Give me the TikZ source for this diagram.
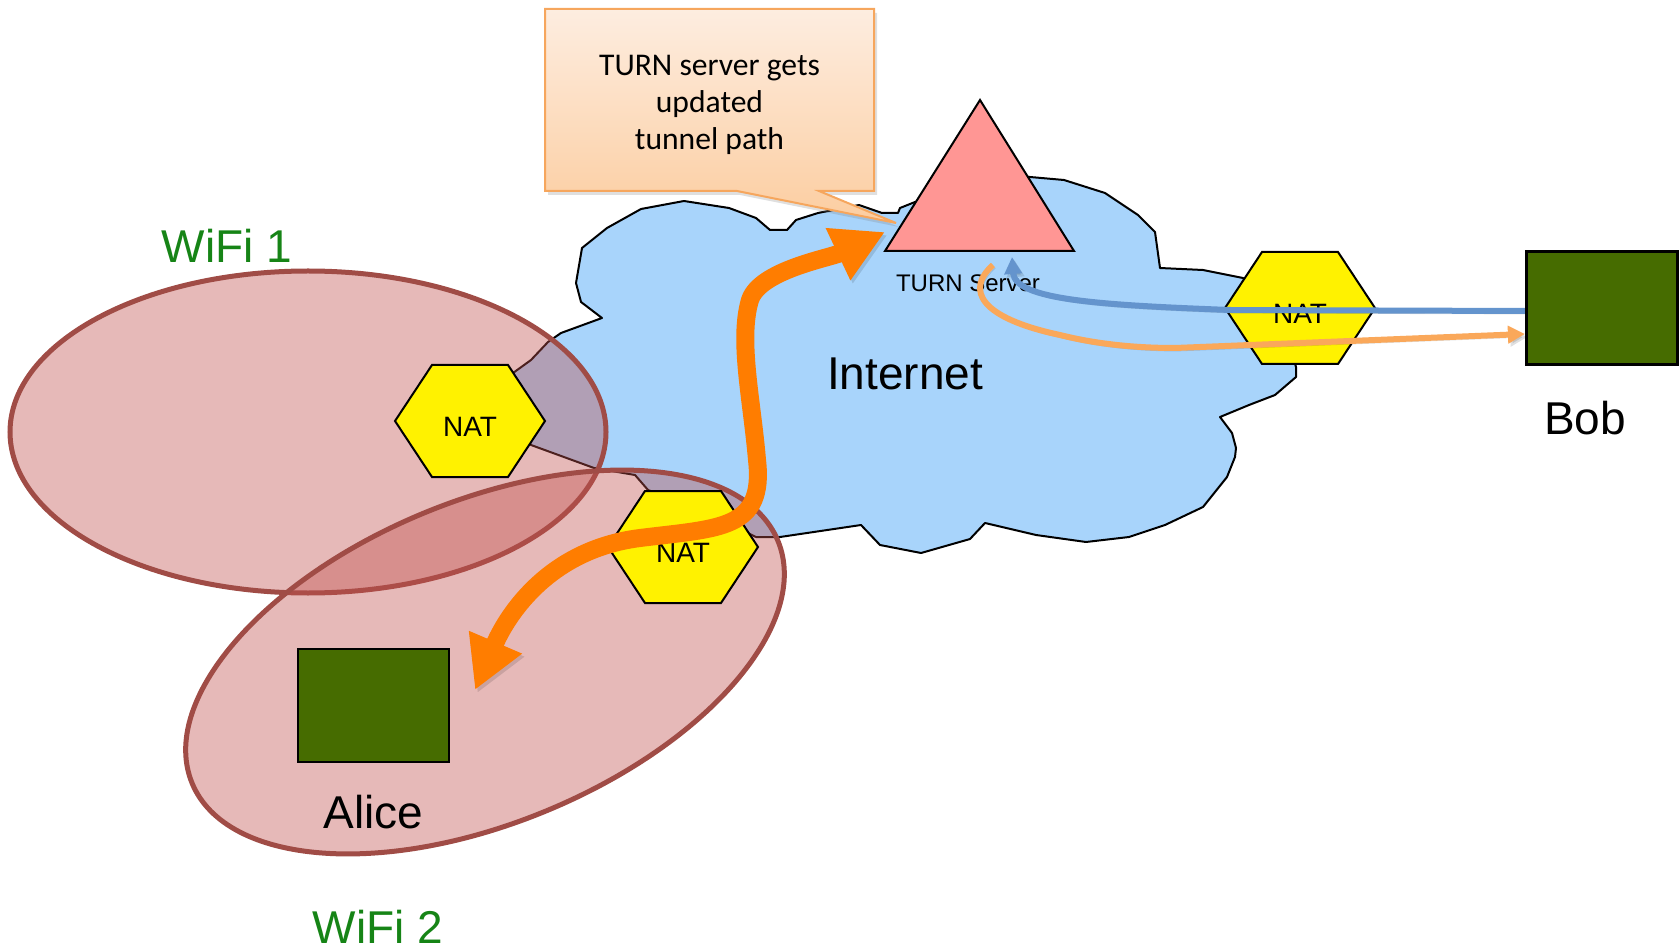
\documentclass[tikz,border=0pt]{standalone}
\usepackage{fontspec}
\setmainfont{Liberation Sans}
\newfontfamily\calibri{Carlito}
\usepackage{xcolor}
\usepackage{tikz}
\usetikzlibrary{arrows.meta,shapes,shadows,positioning}

% 六边形NAT: 先画黄色六边形, 再放文字节点
\newcommand{\natnode}[2]{%
  \filldraw[natshape] (#2) +(-75,0) -- +(-38,-56) -- +(38,-56) -- +(75,0) -- +(38,56) -- +(-38,56) -- cycle;
  \node[nat] (#1) at (#2) {NAT};}

\begin{document}
\begin{tikzpicture}[x=0.5pt,y=-0.5pt]
    \definecolor{mycloud}{RGB}{168,212,251}
    \definecolor{mywifi}{RGB}{192,80,77}
    \definecolor{mywifiline}{RGB}{160,76,70}
    \definecolor{mygreen}{RGB}{70,108,0}
    \definecolor{mytext}{RGB}{22,132,22}
    \definecolor{mypink}{RGB}{255,150,148}
    \definecolor{myorange}{RGB}{255,125,0}
    \definecolor{mylorange}{RGB}{250,168,90}
    \definecolor{myblue}{RGB}{100,148,205}
    \definecolor{mynoteline}{RGB}{246,166,93}
    \definecolor{mynotetop}{RGB}{253,237,224}
    \definecolor{mynotebot}{RGB}{252,205,160}

    \tikzstyle{netcloud}=[draw,line width=1pt,fill=mycloud,line join=round]  % 互联网云
    \tikzstyle{wifi}=[draw=mywifiline,line width=2.5pt,fill=mywifi,fill opacity=0.4]  % WiFi范围
    \tikzstyle{natshape}=[draw,line width=1pt,fill=yellow]  % NAT六边形
    \tikzstyle{nat}=[inner sep=0pt,yshift=-3pt,font=\fontsize{14pt}{16pt}\selectfont]
    \tikzstyle{device}=[rectangle,draw,line width=1.3pt,fill=mygreen,minimum width=75.5pt,minimum height=56.5pt]
    \tikzstyle{bigname}=[inner sep=0pt,font=\fontsize{23pt}{27pt}\selectfont]
    \tikzstyle{wifiname}=[bigname,text=mytext]
    \tikzstyle{turnshape}=[draw,line width=1pt,fill=mypink,line join=miter]
    \tikzstyle{notebox}=[draw=mynoteline,line width=1pt,top color=mynotetop,bottom color=mynotebot,
        drop shadow={shadow xshift=1.5pt,shadow yshift=-2pt,opacity=0.25}]
    \tikzstyle{shade}=[preaction={draw=black,opacity=0.12,transform canvas={shift={(1.2pt,-1.5pt)}}}]  % 连线阴影
    \tikzstyle{bigarrow}=[line width=9pt,myorange,shade,{Triangle[length=26pt,width=27pt]}-{Triangle[length=26pt,width=27pt]}]
    \tikzstyle{thinarrow}=[line width=3pt,shade,-{Triangle[length=8.5pt,width=8.5pt]}]

    \useasboundingbox (0,0) rectangle (1679,951);

    % 互联网
    \draw[netcloud] (684,201) -- (729,208) -- (756,218) -- (770,230) -- (787,230) -- (796,220) -- (818,213)
        -- (859,205) -- (882,213) -- (898,213) -- (900,208) -- (915,202) -- (960,186) -- (1000,177)
        -- (1030,177) -- (1064,180) -- (1105,193) -- (1138,215) -- (1155,232) -- (1160,268) -- (1203,270)
        -- (1243,278) -- (1275,300) -- (1296,367) -- (1296,377) -- (1275,395) -- (1249,405) -- (1220,417)
        -- (1232,433) -- (1236,448) -- (1235,457) -- (1227,477) -- (1203,507) -- (1165,525) -- (1129,537)
        -- (1086,542) -- (1036,535) -- (985,523) -- (970,539) -- (921,553) -- (880,545) -- (861,525)
        -- (780,537) -- (756,537) -- (700,510) -- (648,490) -- (635,475) -- (594,468) -- (531,445)
        -- (505,410) -- (513,373) -- (531,360) -- (548,342) -- (561,333) -- (602,318) -- (581,302)
        -- (576,283) -- (582,248) -- (607,228) -- (641,209) -- cycle;
    \node[bigname] (internet) at (905,374) {Internet};

    % 两个WiFi
    \filldraw[wifi] (308,432) ellipse [x radius=298, y radius=161];
    \filldraw[wifi] (485,662) ellipse [x radius=317, y radius=161, rotate=22.5];
    \node[wifiname] (wifi1) at (227,246) {WiFi 1};
    \node[wifiname] (wifi2) at (378,927) {WiFi 2};

    % NAT
    \natnode{nat1}{470,421}
    \natnode{nat2}{683,547}
    \natnode{nat3}{1300,308}

    % TURN服务器
    \draw[turnshape] (980,100) -- (1074,251) -- (885,251) -- cycle;
    \node[inner sep=0pt,font=\fontsize{12pt}{14pt}\selectfont] (turn) at (968,283) {TURN Server};

    % 说明框
    \path[notebox] (545,9) -- (874,9) -- (874,191) -- (819,191) -- (896,223) -- (737,191) -- (545,191) -- cycle;
    \node[align=center,font=\calibri\fontsize{15.8pt}{18.5pt}\selectfont] (note) at (709.5,105)
        {TURN server gets\\updated\\tunnel path};

    % 终端
    \node[device] (alice) at (373.5,705.5) {};
    \node[bigname,below=15.5pt of alice] (alicename) {Alice};
    \node[device,line width=1.6pt] (bob) at (1602,308) {};
    \node[bigname] (bobname) at (1585,418) {Bob};

    % 连线
    \coordinate (alicein) at (475,690);
    \coordinate (turnin) at (885,232);
    \coordinate (bluetip) at (1012,257);
    \coordinate (orangestart) at (993,265);
    \draw[thinarrow,myblue] (bob.west |- 0,311) -- (1230,310) .. controls (1100,305) and (1015,300) .. (bluetip);
    \draw[thinarrow,mylorange] (orangestart) .. controls (965,290) and (980,318) .. (1060,335)
        .. controls (1100,345) and (1140,348) .. (1175,348) -- (bob.west |- 0,334);
    \draw[bigarrow] (alicein) .. controls (505,620) and (545,550) .. (640,538)
        .. controls (720,528) and (765,530) .. (757,460)
        .. controls (752,400) and (738,340) .. (750,300)
        .. controls (760,270) and (830,258) .. (turnin);
\end{tikzpicture}
\end{document}
